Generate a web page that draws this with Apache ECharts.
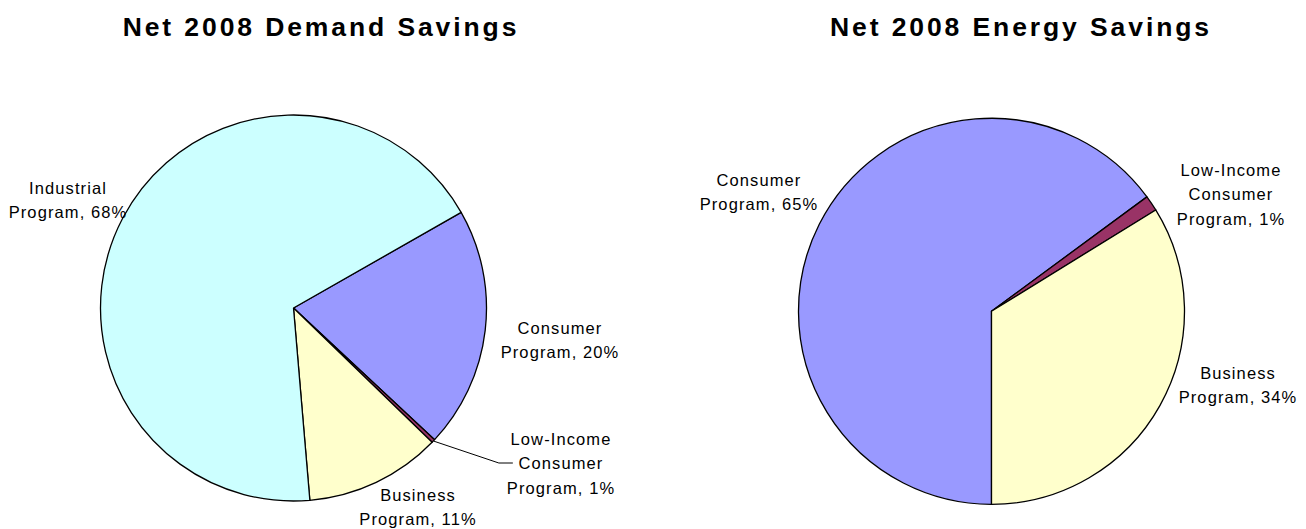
<!DOCTYPE html>
<html>
<head>
<meta charset="utf-8">
<script src="https://cdn.jsdelivr.net/npm/echarts@6/dist/echarts.min.js"></script>
<style>
  html, body { margin: 0; padding: 0; background: #ffffff; }
  #chart { width: 1306px; height: 529px; }
  #chart text { letter-spacing: 1.1px; }
  #chart text[style*="bold"] { letter-spacing: 2.9px; }
</style>
</head>
<body>
<div id="chart"></div>
<script>
// ---- data ----
const titles = ['Net 2008 Demand Savings', 'Net 2008 Energy Savings'];

const demandCategories = ['Consumer\nProgram', 'Low-Income\nConsumer\nProgram', 'Business\nProgram', 'Industrial\nProgram'];
const demandValues = [20.2, 0.3, 11.4, 68.1];
const demandPctLabels = [20, 1, 11, 68];

const energyCategories = ['Consumer\nProgram', 'Low-Income\nConsumer\nProgram', 'Business\nProgram'];
const energyValues = [64.9, 1.3, 33.8];
const energyPctLabels = [65, 1, 34];

// ---- styles / layout ----
const colorMap = {
  'Consumer\nProgram': '#9999FF',
  'Low-Income\nConsumer\nProgram': '#993366',
  'Business\nProgram': '#FFFFCC',
  'Industrial\nProgram': '#CCFFFF'
};
const demandLabelPos = [[560, 340], [561, 463], [418, 507], [68, 200]];
const energyLabelPos = [[759, 192], [1231, 194], [1238, 385]];

function buildData(cats, vals, leaderIdx) {
  return cats.map((c, i) => ({
    name: c,
    value: vals[i],
    itemStyle: { color: colorMap[c] },
    labelLine: { show: i === leaderIdx }
  }));
}

function makeSeries(cats, vals, pcts, pos, center, startAngle, leaderIdx) {
  return {
    type: 'pie',
    center: center,
    radius: 193,
    startAngle: startAngle,
    clockwise: true,
    avoidLabelOverlap: false,
    silent: true,
    animation: false,
    data: buildData(cats, vals, leaderIdx),
    itemStyle: { borderColor: '#000000', borderWidth: 1.3 },
    label: {
      show: true,
      position: 'outside',
      color: '#000000',
      fontFamily: 'Liberation Sans, Arial, sans-serif',
      fontSize: 16.5,
      lineHeight: 24.5,
      align: 'center',
      formatter: p => cats[p.dataIndex] + ', ' + pcts[p.dataIndex] + '%'
    },
    labelLine: {
      show: false,
      length: 30,
      length2: 14,
      lineStyle: { color: '#000000', width: 1 }
    },
    labelLayout: p => ({
      x: pos[p.dataIndex][0],
      y: pos[p.dataIndex][1],
      align: 'center',
      verticalAlign: 'middle'
    }),
    emphasis: { disabled: true }
  };
}

const chart = echarts.init(document.getElementById('chart'), null, { renderer: 'svg' });
chart.setOption({
  backgroundColor: '#ffffff',
  animation: false,
  title: [
    {
      text: titles[0], left: 316, top: 8, textAlign: 'center',
      textStyle: { fontFamily: 'Liberation Sans, Arial, sans-serif', fontWeight: 'bold', fontSize: 26.5, color: '#000000' }
    },
    {
      text: titles[1], left: 1016, top: 8, textAlign: 'center',
      textStyle: { fontFamily: 'Liberation Sans, Arial, sans-serif', fontWeight: 'bold', fontSize: 26.5, color: '#000000' }
    }
  ],
  series: [
    makeSeries(demandCategories, demandValues, demandPctLabels, demandLabelPos, [293.5, 308], 29.7, 1),
    makeSeries(energyCategories, energyValues, energyPctLabels, energyLabelPos, [991.5, 311.3], -90, -1)
  ]
});
</script>
</body>
</html>
